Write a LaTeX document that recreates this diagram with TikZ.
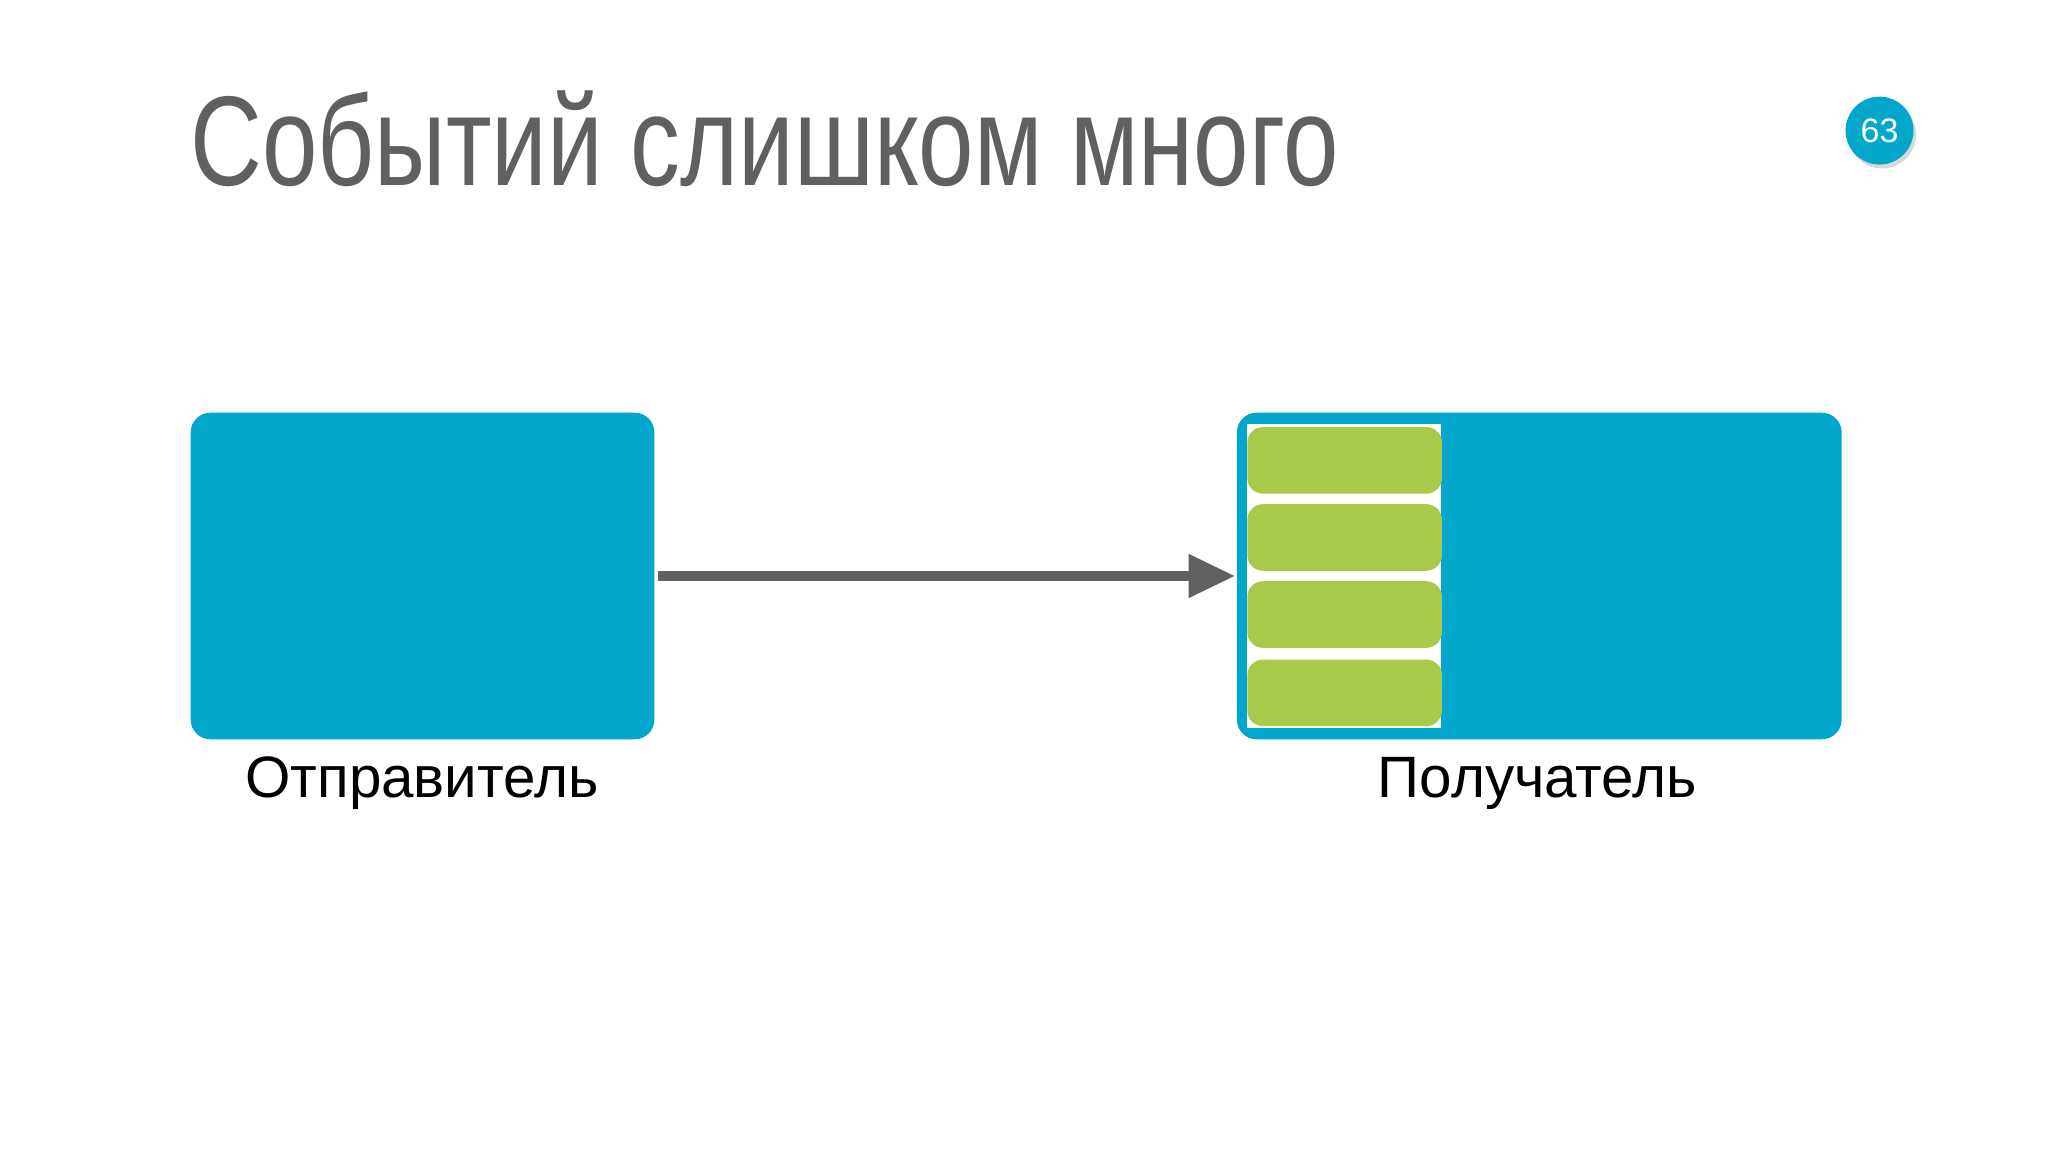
\documentclass[tikz,border=0pt]{standalone}
\usepackage{fontspec}
\setmainfont{Liberation Sans}
\usetikzlibrary{shadows}
\definecolor{cblue}{HTML}{03A7CB}
\definecolor{cgreen}{HTML}{A9C94A}
\definecolor{cgray}{HTML}{606060}
\tikzset{
 box/.style={fill=cblue,rounded corners=15*0.01cm},
 msg/.style={fill=cgreen,rounded corners=12*0.01cm},
 lbl/.style={font=\fontsize{12.7pt}{14pt}\selectfont,text=black}
}
\begin{document}
\begin{tikzpicture}[x=0.01cm,y=-0.01cm]
\useasboundingbox[fill=white] (0,0) rectangle (1568,882);
\node[anchor=base west,inner sep=0,text=cgray,xscale=0.78,font=\fontsize{27.8pt}{30pt}\selectfont] (title) at (145,142) {Событий слишком много};
\node[circle,fill=cblue,minimum size=52*0.01cm,inner sep=0,text=white,font=\fontsize{7.4pt}{8pt}\selectfont,drop shadow={opacity=0.3,shadow xshift=0.02cm,shadow yshift=-0.03cm}] (num) at (1439,100) {63};
\path[box] (146,316) rectangle (501,566);
\node (snd) at (323.5,441) {};
\path[box] (947,316) rectangle (1410,566);
\node (rcv) at (947,441) {};
\fill[white] (955,325) rectangle (1103,557);
\foreach \y in {327,386,445,505} \path[msg] (955,\y) rectangle (1104,\y+51);
\coordinate (a0) at (504,441);
\coordinate (a1) at (945,441);
\draw[cgray,line width=8*0.01cm] (a0) -- (912,441);
\fill[cgray] (a1) -- (910,424) -- (910,458) -- cycle;
\node[lbl] (l1) at (323,600) {Отправитель};
\node[lbl] (l2) at (1177,600) {Получатель};
\end{tikzpicture}
\end{document}
